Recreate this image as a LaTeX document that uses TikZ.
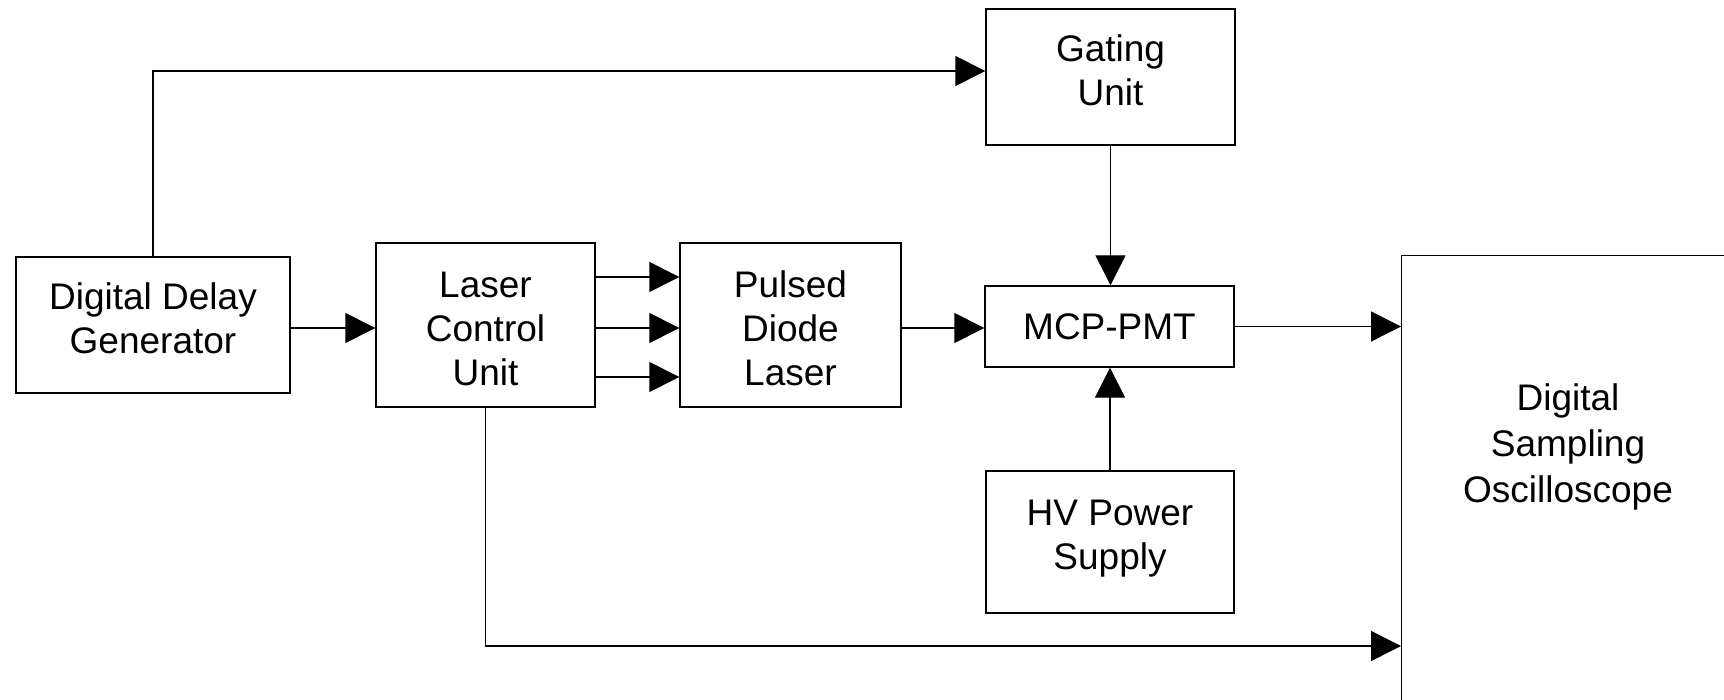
\documentclass[tikz,border=0pt]{standalone}
\usepackage{fontspec}
\setmainfont{Liberation Sans}
\usetikzlibrary{arrows.meta}

\begin{document}
\begin{tikzpicture}[x=0.5pt,y=-0.5pt,
    box/.style={draw,line width=0.7pt,align=center,inner sep=0pt,
      font=\fontsize{18.5}{22}\selectfont},
    twoline/.style={text depth=7pt},
    threeline/.style={text height=60.5pt,text depth=0pt},
    arr/.style={-{Triangle[length=15pt,width=15pt]},line width=0.7pt}]
      \clip (0,0) rectangle (1724,700);
      \fill[white] (0,0) rectangle (1724,700);
      % blocks
      \node[box,twoline,minimum width=137pt,minimum height=68pt] (ddg) at (153,325) {Digital Delay\\Generator};
      \node[box,threeline,minimum width=109.5pt,minimum height=82pt] (lcu) at (485.5,325) {Laser\\Control\\Unit};
      \node[box,threeline,minimum width=110.5pt,minimum height=82pt] (pdl) at (790.5,325) {Pulsed\\Diode\\Laser};
      \node[box,minimum width=124.5pt,minimum height=40.5pt] (mcp) at (1109.5,326.5) {MCP-PMT};
      \node[box,twoline,minimum width=124.5pt,minimum height=68pt] (gate) at (1110.5,77) {Gating\\Unit};
      \node[box,twoline,minimum width=124pt,minimum height=71pt] (hv) at (1110,542) {HV Power\\Supply};
      \node[box,minimum width=180pt,minimum height=245pt,anchor=north west] (osc) at (1401,255) {};
      \node[font=\fontsize{18.5}{23}\selectfont,align=center] (osctext) at (1568,447) {Digital\\Sampling\\Oscilloscope};
      % signal paths
      \draw[arr] (ddg.north) |- ([yshift=3pt]gate.west);
      \draw[arr] ([yshift=-1.5pt]ddg.east) -- ([yshift=-1.5pt]ddg.east -| lcu.west);
      \foreach \dy in {24,-1.5,-26}
        \draw[arr] ([yshift=\dy pt]lcu.east) -- ([yshift=\dy pt]pdl.west);
      \draw[arr] ([yshift=-1.5pt]pdl.east) -- ([yshift=-1.5pt]pdl.east -| mcp.west);
      \draw[arr] (gate.south) -- (gate.south |- mcp.north);
      \draw[arr] (hv.north) -- (hv.north |- mcp.south);
      \draw[arr] (mcp.east) -- (mcp.east -| osc.west);
      \coordinate (oscin) at (1401,646);
      \draw[arr] (lcu.south) |- (oscin);
    \end{tikzpicture}
\end{document}
